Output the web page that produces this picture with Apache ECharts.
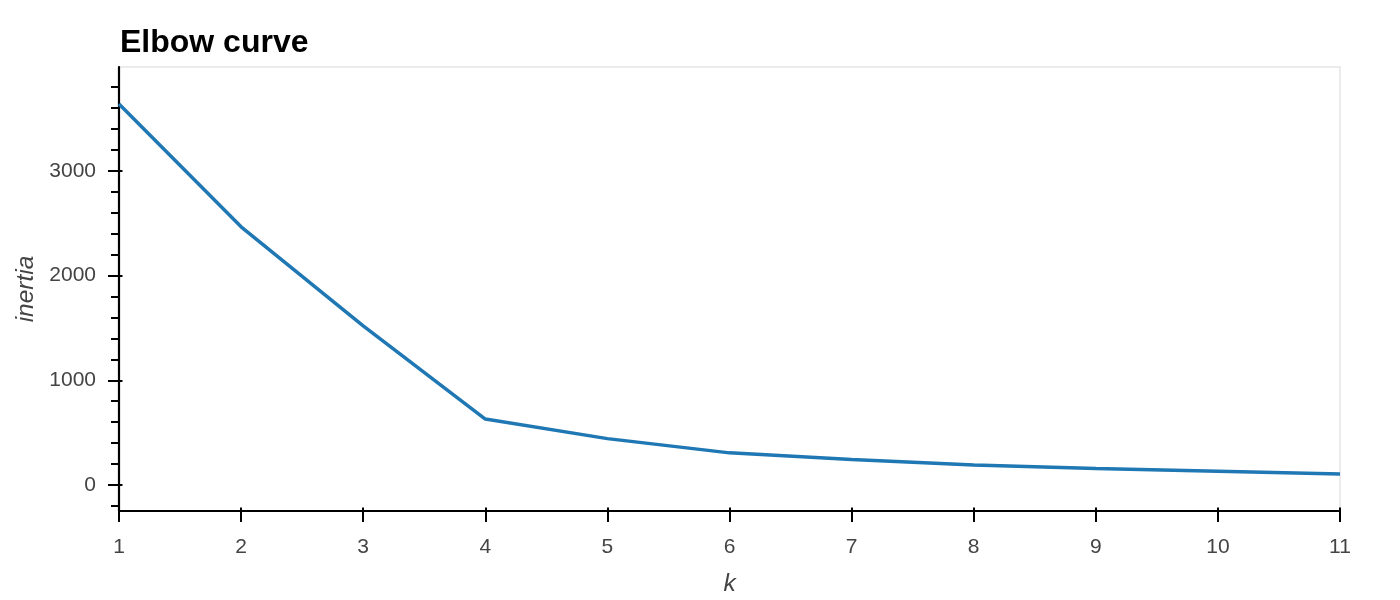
<!DOCTYPE html>
<html>
<head>
<meta charset="utf-8">
<script src="https://cdn.jsdelivr.net/npm/echarts@6/dist/echarts.min.js"></script>
<style>html,body{margin:0;padding:0;background:#fff}#c{width:1400px;height:600px}</style>
</head>
<body>
<div id="c"></div>
<script>
const kValues = [1, 2, 3, 4, 5, 6, 7, 8, 9, 10, 11];
const inertia = [3638, 2465, 1520, 630, 443, 307, 244, 192, 158, 131, 105];
const yMajorTicks = [0, 1000, 2000, 3000];
const yMinorTicks = [-200, 200, 400, 600, 800, 1200, 1400, 1600, 1800, 2200, 2400, 2600, 2800, 3200, 3400, 3600, 3800];
const xTicks = [1, 2, 3, 4, 5, 6, 7, 8, 9, 10, 11];
const yMin = -248, yMax = 3991;

const font = '"Liberation Sans", Arial, Helvetica, sans-serif';
const textColor = '#444444';
const chart = echarts.init(document.getElementById('c'));
chart.setOption({
  animation: false,
  backgroundColor: '#ffffff',
  title: {
    text: 'Elbow curve', left: 115, top: 22,
    textStyle: {fontFamily: font, fontWeight: 'bold', fontSize: 32, color: '#000'}
  },
  grid: {left: 119, right: 60, top: 67, bottom: 89, show: true, borderColor: '#e5e5e5', borderWidth: 1.5,
         containLabel: false, outerBoundsMode: 'none'},
  xAxis: [{
    type: 'value', min: 1, max: 11, interval: 1,
    name: 'k', nameLocation: 'middle', nameGap: 61,
    nameTextStyle: {fontFamily: font, fontStyle: 'italic', fontSize: 24.5, color: textColor},
    axisLine: {show: true, onZero: false, lineStyle: {color: '#000', width: 2.2}},
    axisTick: {show: true, inside: false, length: 11, lineStyle: {color: '#000', width: 2}, customValues: xTicks},
    axisLabel: {fontFamily: font, fontSize: 21, color: textColor, margin: 26, customValues: xTicks, formatter: v => String(v)},
    splitLine: {show: false}
  }, {
    type: 'value', min: 1, max: 11, interval: 1, position: 'bottom',
    axisLine: {show: false, onZero: false},
    axisTick: {show: true, inside: true, length: 3.5, lineStyle: {color: '#000', width: 2}, customValues: xTicks},
    axisLabel: {show: false}, splitLine: {show: false}
  }],
  yAxis: [{
    type: 'value', min: yMin, max: yMax,
    name: 'inertia', nameLocation: 'middle', nameGap: 80, nameRotate: 90,
    nameTextStyle: {fontFamily: font, fontStyle: 'italic', fontSize: 24.5, color: textColor},
    axisLine: {show: true, onZero: false, lineStyle: {color: '#000', width: 2.2}},
    axisTick: {show: true, inside: false, length: 11, lineStyle: {color: '#000', width: 2}, customValues: yMajorTicks},
    axisLabel: {fontFamily: font, fontSize: 21, color: textColor, margin: 23, customValues: yMajorTicks, formatter: v => String(v)},
    splitLine: {show: false}
  }, {
    type: 'value', min: yMin, max: yMax, position: 'left',
    axisLine: {show: false, onZero: false},
    axisTick: {show: true, inside: false, length: 8, lineStyle: {color: '#000', width: 2}, customValues: yMinorTicks},
    axisLabel: {show: false}, splitLine: {show: false}
  }, {
    type: 'value', min: yMin, max: yMax, position: 'left',
    axisLine: {show: false, onZero: false},
    axisTick: {show: true, inside: true, length: 3.5, lineStyle: {color: '#000', width: 2}, customValues: yMajorTicks},
    axisLabel: {show: false}, splitLine: {show: false}
  }],
  series: [{
    type: 'line',
    data: kValues.map((k, i) => [k, inertia[i]]),
    showSymbol: false, symbol: 'none',
    lineStyle: {color: '#1f77b4', width: 3.5},
    itemStyle: {color: '#1f77b4'}
  }]
});
</script>
</body>
</html>
